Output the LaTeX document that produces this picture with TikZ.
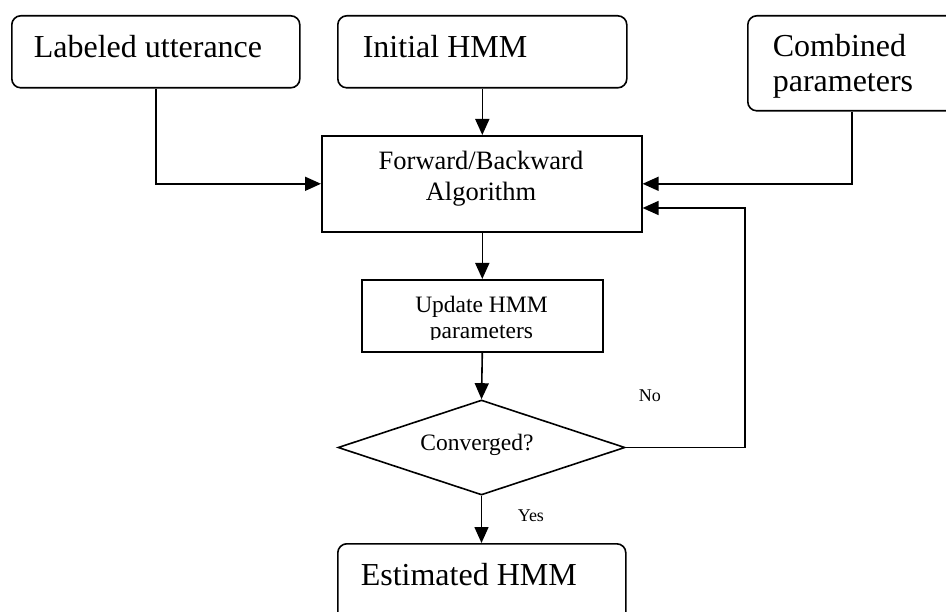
\documentclass[tikz,border=0pt]{standalone}
\usepackage{fontspec}
\setmainfont{Liberation Serif}
\usetikzlibrary{arrows.meta,shapes.geometric}
\begin{document}
\begin{tikzpicture}[x=1pt,y=-1pt,
  line width=1.6pt,
  roundbox/.style={draw,rounded corners=9pt,inner sep=0pt,anchor=north west},
  squarebox/.style={draw,inner sep=0pt,anchor=north west},
  bigtxt/.style={font=\fontsize{32}{36}\selectfont,inner sep=0pt,anchor=base west},
  midtxt/.style={font=\fontsize{26.5}{31}\selectfont,inner sep=0pt,anchor=base},
  smalltxt/.style={font=\fontsize{23.5}{27}\selectfont,inner sep=0pt,anchor=base},
  tinytxt/.style={font=\fontsize{18}{21}\selectfont,inner sep=0pt,anchor=base west},
  flow/.style={-{Triangle[length=16pt,width=14pt]},line width=1.6pt}]
\clip (0,0) rectangle (946,612);

% input boxes
\node[roundbox,minimum width=288pt,minimum height=72pt] (lab) at (11,15) {};
\node[bigtxt] (labt) at (33,58) {Labeled utterance};
\node[roundbox,minimum width=289pt,minimum height=72pt] (init) at (337,15) {};
\node[bigtxt] (initt) at (362,58) {Initial HMM};
\node[roundbox,minimum width=208pt,minimum height=95pt] (comb) at (747,15) {};
\node[bigtxt] (combt1) at (772,57) {Combined};
\node[bigtxt] (combt2) at (772,92) {parameters};

% processing steps
\node[squarebox,minimum width=320pt,minimum height=96pt] (fb) at (321,135) {};
\node[midtxt] (fbt1) at (481,170) {Forward/Backward};
\node[midtxt] (fbt2) at (481,201) {Algorithm};
\node[squarebox,minimum width=241pt,minimum height=72pt] (upd) at (361,279) {};
\node[smalltxt] (updt1) at (481.5,313) {Update HMM};
\begin{scope}
  \clip (361,279) rectangle (602,340);
  \node[smalltxt] (updt2) at (481.5,339) {parameters};
\end{scope}

% decision
\node[draw,diamond,inner sep=0pt,minimum width=287pt,minimum height=95pt] (conv) at (481.5,447.5) {};
\node[smalltxt] (convt) at (477,451) {Converged?};

% result
\node[roundbox,minimum width=288pt,minimum height=80pt] (est) at (337,543) {};
\node[bigtxt] (estt) at (360,585) {Estimated HMM};

% branch labels
\node[tinytxt] (no) at (638,402) {No};
\node[tinytxt] (yes) at (517,521) {Yes};

% connectors
\coordinate (back) at (745,208);
\draw[flow] (lab.south) |- (fb.west);
\draw[flow] (init.south) -- (init.south |- fb.north);
\draw[flow] (comb.south) |- (fb.east);
\draw[flow] (conv.east) -- (conv.east -| back) -- (back) -- (back -| fb.east);
\draw[flow] (fb.south -| init.south) -- (init.south |- upd.north);
\draw[flow] (upd.south -| init.south) -- (conv.north);
\draw[flow] (conv.south) -- (est.north -| conv.south);
\end{tikzpicture}
\end{document}
